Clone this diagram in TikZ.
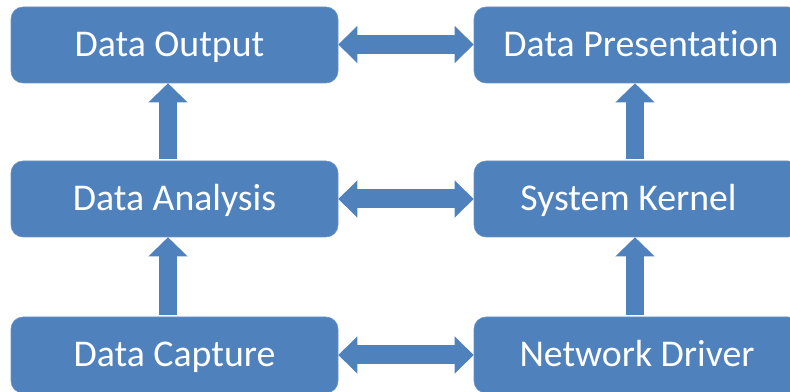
\documentclass[tikz,border=0pt]{standalone}
\usepackage{fontspec}
\setmainfont{Carlito}[Ligatures={NoCommon}]
\usetikzlibrary{arrows.meta}
\definecolor{boxblue}{HTML}{4F81BD}
\begin{document}
\begin{tikzpicture}[x=1pt,y=1pt,
  blk/.style={fill=boxblue, draw=boxblue!85!white, line width=0.6pt, rounded corners=12pt,
    minimum width=327pt, minimum height=76pt, inner sep=0pt, text=white,
    font=\fontsize{37.8}{40}\selectfont, text height=24pt, text depth=0pt},
  rblk/.style={blk, minimum width=326pt},
  upconn/.style={draw=boxblue, line width=18pt, -{Triangle[length=19pt,width=38pt]}},
  bothconn/.style={draw=boxblue, line width=19pt,
    {Triangle[length=19pt,width=36pt]}-{Triangle[length=19pt,width=36pt]}}
]
\useasboundingbox (0,0) rectangle (790,391);
\clip (0,0) rectangle (790,391);
% left column
\node[blk]  (dout)  at (174.5,346) {\hspace*{-10pt}Data Output};
\node[blk]  (dana)  at (174.5,192) {Data Analysis};
\node[blk]  (dcap)  at (174.5,36)  {Data Capture};
% right column
\node[rblk] (dpres) at (637,346) {Data Presentation\hspace*{-8pt}};
\node[rblk] (sysk)  at (637,192) {\hspace*{-17pt}System Kernel};
\node[rblk] (netd)  at (637,36)  {Network Driver};
% vertical arrows
\draw[upconn] ([xshift=-6.5pt,yshift=2pt]dana.north) -- ([xshift=-6.5pt]dout.south);
\draw[upconn] ([xshift=-6.5pt,yshift=2pt]dcap.north) -- ([xshift=-6.5pt]dana.south);
\draw[upconn] ([xshift=-2pt,yshift=2pt]sysk.north) -- ([xshift=-2pt]dpres.south);
\draw[upconn] ([xshift=-2pt,yshift=2pt]netd.north) -- ([xshift=-2pt]sysk.south);
% horizontal double arrows
\draw[bothconn] ([yshift=0.5pt]dout.east) -- ([yshift=0.5pt]dpres.west);
\draw[bothconn] (dana.east) -- (sysk.west);
\draw[bothconn] (dcap.east) -- (netd.west);
\end{tikzpicture}
\end{document}
